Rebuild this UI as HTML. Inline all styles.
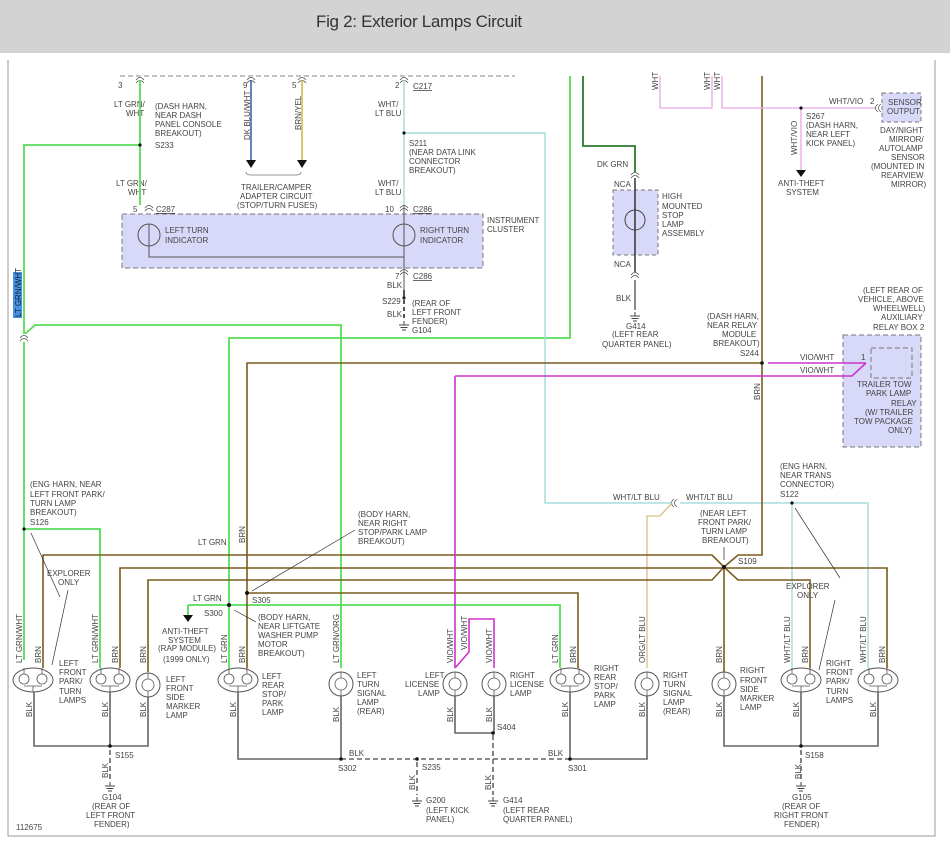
<!DOCTYPE html>
<html><head><meta charset="utf-8"><style>
html,body{margin:0;padding:0;background:#fff;}
body{width:950px;height:848px;overflow:hidden;position:relative;font-family:"Liberation Sans",sans-serif;}
#hdr{position:absolute;left:0;top:0;width:950px;height:53px;background:#d3d3d3;}
#hdr span{position:absolute;left:316px;top:12px;font-size:17px;color:#333;letter-spacing:-0.3px;}
svg{position:absolute;left:0;top:0;}
text{font-family:"Liberation Sans",sans-serif;font-size:8px;fill:#444;}
</style></head><body>
<div id="hdr"><span>Fig 2: Exterior Lamps Circuit</span></div>
<svg width="950" height="848" viewBox="0 0 950 848">
<defs>
<g id="dbl"><ellipse cx="0" cy="0" rx="20" ry="12" fill="#fff" stroke="#555" stroke-width="1"/>
<circle cx="-9" cy="-1" r="5" fill="none" stroke="#555" stroke-width="0.8"/><circle cx="9" cy="-1" r="5" fill="none" stroke="#555" stroke-width="0.8"/>
<path d="M-9,-12 v6 M9,-12 v6 M0,6 v6 M-9,6 h18" stroke="#555" stroke-width="0.8" fill="none"/></g>
<g id="sgl"><circle cx="0" cy="0" r="12" fill="#fff" stroke="#555" stroke-width="1"/>
<circle cx="0" cy="0" r="6" fill="none" stroke="#555" stroke-width="0.8"/><path d="M0,-12 v6 M0,6 v6" stroke="#555" stroke-width="0.8"/></g>
<g id="gnd"><path d="M-5,0 h10 M-3.5,2.5 h7 M-2,5 h4 M0,-4 v4" stroke="#444" stroke-width="1"/></g>
<g id="con"><path d="M-4,2 q4,-5 8,0 M-4,5 q4,-5 8,0" fill="none" stroke="#555" stroke-width="0.8"/></g>
<g id="conh"><path d="M2,-4 q-5,4 0,8 M5,-4 q-5,4 0,8" fill="none" stroke="#555" stroke-width="0.8"/></g>
</defs>
<path d="M8,60 V836 H935 V60" fill="none" stroke="#999" stroke-width="1"/>
<path d="M120,76 H515" stroke="#888" stroke-dasharray="5,3" stroke-width="1"/>
<rect x="122" y="214" width="361" height="54" fill="#d8d8f8" stroke="#777" stroke-dasharray="5,3"/>
<circle cx="149" cy="235" r="11" fill="none" stroke="#555"/><circle cx="404" cy="235" r="11" fill="none" stroke="#555"/>
<path d="M149,224 V257 H404 M404,205 V290" stroke="#555" stroke-width="1" fill="none"/>
<path d="M404,290 V298" stroke="#555" stroke-width="2"/><path d="M404,300 V320" stroke="#555" stroke-width="2" stroke-dasharray="4,3"/>
<circle cx="404" cy="298" r="1.6" fill="#222"/><use href="#gnd" x="404" y="325"/>
<use href="#con" x="140" y="78"/><use href="#con" x="251" y="78"/><use href="#con" x="302" y="78"/><use href="#con" x="404" y="78"/>
<use href="#con" x="149" y="206"/><use href="#con" x="404" y="206"/><use href="#con" x="404" y="270"/>
<text x="118" y="88">3</text><text x="243" y="88">9</text><text x="292" y="88">5</text><text x="395" y="88">2</text><text x="413" y="89" text-decoration="underline">C217</text>
<text x="114" y="107">LT GRN/</text><text x="126" y="116">WHT</text>
<text x="155" y="109">(DASH HARN,</text><text x="155" y="118">NEAR DASH</text><text x="155" y="127">PANEL CONSOLE</text><text x="155" y="136">BREAKOUT)</text><text x="155" y="148">S233</text>
<text x="116" y="186">LT GRN/</text><text x="128" y="195">WHT</text>
<text x="133" y="212">5</text><text x="156" y="212" text-decoration="underline">C287</text>
<text x="385" y="212">10</text><text x="413" y="212" text-decoration="underline">C286</text>
<text x="378" y="107">WHT/</text><text x="375" y="116">LT BLU</text>
<text x="378" y="186">WHT/</text><text x="375" y="195">LT BLU</text>
<text x="409" y="146">S211</text><text x="409" y="155">(NEAR DATA LINK</text><text x="409" y="164">CONNECTOR</text><text x="409" y="173">BREAKOUT)</text>
<text x="165" y="233">LEFT TURN</text><text x="165" y="243">INDICATOR</text>
<text x="420" y="233">RIGHT TURN</text><text x="420" y="243">INDICATOR</text>
<text x="487" y="223">INSTRUMENT</text><text x="487" y="232">CLUSTER</text>
<text x="395" y="279">7</text><text x="413" y="279" text-decoration="underline">C286</text><text x="387" y="288">BLK</text>
<text x="382" y="304">S229</text><text x="387" y="317">BLK</text>
<text x="412" y="306">(REAR OF</text><text x="412" y="315">LEFT FRONT</text><text x="412" y="324">FENDER)</text><text x="412" y="333">G104</text>
<text x="241" y="190">TRAILER/CAMPER</text><text x="240" y="199">ADAPTER CIRCUIT</text><text x="237" y="208">(STOP/TURN FUSES)</text>
<path d="M251,80 V160" stroke="#3355aa" stroke-width="1.5"/><path d="M302,80 V160" stroke="#c8b840" stroke-width="1.5"/>
<path d="M246,160 h10 l-5,8z M297,160 h10 l-5,8z" fill="#111"/>
<path d="M246,172 q0,3 5,3 h45 q5,0 5,-3" fill="none" stroke="#777" stroke-width="0.8"/>
<text transform="translate(250,140) rotate(-90)">DK BLU/WHT</text><text transform="translate(301,130) rotate(-90)">BRN/YEL</text>
<g fill="none" stroke="#55dd55" stroke-width="1.8">
<path d="M140,80 V205"/><path d="M140,145 H24 V660"/>
<path d="M24,335 L35,325 H341 V668"/>
<path d="M24,529 H100 V668"/>
<path d="M570,76 V338 H229 V668"/>
<path d="M188,605 H560 V668"/>
</g>
<rect x="19" y="334" width="10" height="8" fill="#fff"/><use href="#con" x="24" y="336"/>
<path d="M188,605 V616" stroke="#55dd55" stroke-width="1.8"/><path d="M183,615 h10 l-5,7z" fill="#111"/>
<rect x="13" y="272" width="9" height="46" fill="#4a90e2"/>
<text transform="translate(21,317) rotate(-90)" style="fill:#123">LT GRN/WHT</text>
<path d="M583,76 V146 H635 V172" fill="none" stroke="#2a7a2a" stroke-width="1.8"/>
<rect x="613" y="190" width="45" height="65" fill="#d8d8f8" stroke="#777" stroke-dasharray="4,3"/>
<circle cx="635" cy="220" r="10" fill="none" stroke="#444"/><path d="M635,178 V272" stroke="#333" stroke-width="1.5"/>
<use href="#con" x="635" y="173"/><use href="#con" x="635" y="273"/>
<path d="M635,280 V310" stroke="#666" stroke-width="1.5"/><use href="#gnd" x="635" y="316"/>
<text x="597" y="167">DK GRN</text><text x="614" y="187">NCA</text><text x="614" y="267">NCA</text><text x="616" y="301">BLK</text>
<text x="662" y="199">HIGH</text><text x="662" y="209">MOUNTED</text><text x="662" y="218">STOP</text><text x="662" y="227">LAMP</text><text x="662" y="236">ASSEMBLY</text>
<text x="626" y="329">G414</text><text x="612" y="337">(LEFT REAR</text><text x="602" y="347">QUARTER PANEL)</text>
<g fill="none" stroke="#a8dede" stroke-width="1.5">
<path d="M404,80 V205"/><path d="M404,133 H545 V503 H671"/>
<path d="M680,503 H868 V668"/><path d="M792,503 V668"/>
</g>
<use href="#conh" x="672" y="503"/>
<path d="M672,503 L660,516 H647 V668" fill="none" stroke="#d8c080" stroke-width="1.3"/>
<text x="613" y="500">WHT/LT BLU</text><text x="686" y="500">WHT/LT BLU</text>
<text x="780" y="469">(ENG HARN,</text><text x="780" y="478">NEAR TRANS</text><text x="780" y="487">CONNECTOR)</text><text x="780" y="497">S122</text>
<g fill="none" stroke="#7a5c1e" stroke-width="1.6">
<path d="M762,76 V555 H738 L724,567 L712,555 H43 V668"/>
<path d="M120,668 V568 H887 V668"/>
<path d="M148,672 V580 H712 L724,567 L738,580 H810 V668"/>
<path d="M724,567 V672"/>
<path d="M247,668 V363 H762"/>
<path d="M247,593 H578 V668"/>
</g>
<circle cx="724" cy="567" r="2" fill="#111"/><circle cx="762" cy="363" r="1.8" fill="#111"/>
<g fill="none" stroke="#e8a8e8" stroke-width="1.3">
<path d="M660,76 V108 H712 V76"/><path d="M722,76 V108 H876"/><path d="M801,108 V170"/>
</g>
<use href="#conh" x="876" y="108"/>
<path d="M796,170 h10 l-5,7z" fill="#111"/><circle cx="801" cy="108" r="1.6" fill="#111"/>
<text transform="translate(658,90) rotate(-90)">WHT</text><text transform="translate(710,90) rotate(-90)">WHT</text><text transform="translate(720,90) rotate(-90)">WHT</text>
<text x="829" y="104">WHT/VIO</text><text x="870" y="104">2</text>
<text x="806" y="119">S267</text><text x="806" y="128">(DASH HARN,</text><text x="806" y="137">NEAR LEFT</text><text x="806" y="146">KICK PANEL)</text>
<text transform="translate(797,155) rotate(-90)">WHT/VIO</text>
<text x="778" y="186">ANTI-THEFT</text><text x="786" y="195">SYSTEM</text>
<rect x="882" y="93" width="39" height="29" fill="#d8d8f8" stroke="#777" stroke-dasharray="4,3"/>
<text x="888" y="105">SENSOR</text><text x="887" y="114">OUTPUT</text>
<text x="880" y="133">DAY/NIGHT</text><text x="889" y="142">MIRROR/</text><text x="879" y="151">AUTOLAMP</text><text x="891" y="160">SENSOR</text><text x="871" y="169">(MOUNTED IN</text><text x="881" y="178">REARVIEW</text><text x="891" y="187">MIRROR)</text>
<rect x="843" y="335" width="78" height="112" fill="#d8d8f8" stroke="#777" stroke-dasharray="5,3"/>
<rect x="871" y="348" width="41" height="30" fill="#d8d8f8" stroke="#777" stroke-dasharray="5,3"/>
<text x="863" y="293">(LEFT REAR OF</text><text x="858" y="302">VEHICLE, ABOVE</text><text x="873" y="311">WHEELWELL)</text><text x="881" y="320">AUXILIARY</text><text x="873" y="330">RELAY BOX 2</text>
<text x="857" y="387">TRAILER TOW</text><text x="866" y="396">PARK LAMP</text><text x="891" y="406">RELAY</text><text x="865" y="415">(W/ TRAILER</text><text x="854" y="424">TOW PACKAGE</text><text x="888" y="433">ONLY)</text>
<text x="861" y="360">1</text>
<g fill="none" stroke="#cc33cc" stroke-width="1.6">
<path d="M768,363 H866"/><path d="M455,376 H852 L866,363"/>
<path d="M455,376 V668"/><path d="M455,668 L469,652 V619 H494 V668"/>
</g>
<text x="800" y="360">VIO/WHT</text><text x="800" y="373">VIO/WHT</text>
<text x="707" y="319">(DASH HARN,</text><text x="707" y="328">NEAR RELAY</text><text x="722" y="337">MODULE</text><text x="713" y="346">BREAKOUT)</text><text x="740" y="356">S244</text>
<text transform="translate(760,400) rotate(-90)">BRN</text>
<text x="700" y="516">(NEAR LEFT</text><text x="698" y="525">FRONT PARK/</text><text x="701" y="534">TURN LAMP</text><text x="702" y="543">BREAKOUT)</text><text x="738" y="564">S109</text>
<path d="M724,547 V560" stroke="#222" stroke-width="0.7"/>
<text x="30" y="487">(ENG HARN, NEAR</text><text x="30" y="497">LEFT FRONT PARK/</text><text x="30" y="506">TURN LAMP</text><text x="30" y="515">BREAKOUT)</text><text x="30" y="525">S126</text>
<circle cx="24" cy="529" r="1.6" fill="#111"/><circle cx="140" cy="145" r="1.6" fill="#111"/><circle cx="404" cy="133" r="1.6" fill="#111"/>
<circle cx="229" cy="605" r="2" fill="#111"/><circle cx="247" cy="593" r="2" fill="#111"/><circle cx="792" cy="503" r="1.6" fill="#111"/>
<text x="47" y="576">EXPLORER</text><text x="58" y="585">ONLY</text>
<path d="M68,590 L52,665 M60,597 L31,533 M819,670 L835,600 M840,578 L795,508" stroke="#333" stroke-width="0.7"/>
<text x="198" y="545">LT GRN</text><text transform="translate(245,543) rotate(-90)">BRN</text>
<text x="358" y="517">(BODY HARN,</text><text x="358" y="526">NEAR RIGHT</text><text x="358" y="535">STOP/PARK LAMP</text><text x="358" y="544">BREAKOUT)</text>
<path d="M355,530 L252,591" stroke="#333" stroke-width="0.7"/>
<text x="252" y="603">S305</text><text x="193" y="601">LT GRN</text><text x="204" y="616">S300</text>
<text x="258" y="620">(BODY HARN,</text><text x="258" y="629">NEAR LIFTGATE</text><text x="258" y="638">WASHER PUMP</text><text x="258" y="647">MOTOR</text><text x="258" y="656">BREAKOUT)</text>
<path d="M256,622 L234,610" stroke="#333" stroke-width="0.7"/>
<text x="162" y="634">ANTI-THEFT</text><text x="168" y="643">SYSTEM</text><text x="158" y="651">(RAP MODULE)</text><text x="163" y="662">(1999 ONLY)</text>
<text x="786" y="589">EXPLORER</text><text x="797" y="598">ONLY</text>
<use href="#dbl" x="33" y="680"/><use href="#dbl" x="110" y="680"/><use href="#sgl" x="148" y="685"/>
<use href="#dbl" x="238" y="680"/><use href="#sgl" x="341" y="684"/><use href="#sgl" x="455" y="684"/><use href="#sgl" x="494" y="684"/>
<use href="#dbl" x="570" y="680"/><use href="#sgl" x="647" y="684"/><use href="#sgl" x="724" y="684"/><use href="#dbl" x="801" y="680"/><use href="#dbl" x="878" y="680"/>
<g>
<text transform="translate(22,663) rotate(-90)">LT GRN/WHT</text><text transform="translate(41,663) rotate(-90)">BRN</text>
<text transform="translate(98,663) rotate(-90)">LT GRN/WHT</text><text transform="translate(118,663) rotate(-90)">BRN</text>
<text transform="translate(146,663) rotate(-90)">BRN</text>
<text transform="translate(227,663) rotate(-90)">LT GRN</text><text transform="translate(245,663) rotate(-90)">BRN</text>
<text transform="translate(339,663) rotate(-90)">LT GRN/ORG</text>
<text transform="translate(453,663) rotate(-90)">VIO/WHT</text><text transform="translate(467,650) rotate(-90)">VIO/WHT</text><text transform="translate(492,663) rotate(-90)">VIO/WHT</text>
<text transform="translate(558,663) rotate(-90)">LT GRN</text><text transform="translate(576,663) rotate(-90)">BRN</text>
<text transform="translate(645,663) rotate(-90)">ORG/LT BLU</text><text transform="translate(722,663) rotate(-90)">BRN</text>
<text transform="translate(790,663) rotate(-90)">WHT/LT BLU</text><text transform="translate(808,663) rotate(-90)">BRN</text>
<text transform="translate(866,663) rotate(-90)">WHT/LT BLU</text><text transform="translate(885,663) rotate(-90)">BRN</text>
<text transform="translate(32,717) rotate(-90)">BLK</text><text transform="translate(108,717) rotate(-90)">BLK</text><text transform="translate(146,717) rotate(-90)">BLK</text>
<text transform="translate(236,717) rotate(-90)">BLK</text><text transform="translate(339,722) rotate(-90)">BLK</text><text transform="translate(453,722) rotate(-90)">BLK</text>
<text transform="translate(492,722) rotate(-90)">BLK</text><text transform="translate(568,717) rotate(-90)">BLK</text><text transform="translate(645,717) rotate(-90)">BLK</text>
<text transform="translate(722,717) rotate(-90)">BLK</text><text transform="translate(799,717) rotate(-90)">BLK</text><text transform="translate(876,717) rotate(-90)">BLK</text>
<text transform="translate(108,778) rotate(-90)">BLK</text><text transform="translate(415,790) rotate(-90)">BLK</text><text transform="translate(491,790) rotate(-90)">BLK</text><text transform="translate(801,779) rotate(-90)">BLK</text>
</g>
<text x="59" y="666">LEFT</text><text x="59" y="675">FRONT</text><text x="59" y="684">PARK/</text><text x="59" y="694">TURN</text><text x="59" y="703">LAMPS</text>
<text x="166" y="682">LEFT</text><text x="166" y="691">FRONT</text><text x="166" y="700">SIDE</text><text x="166" y="709">MARKER</text><text x="166" y="718">LAMP</text>
<text x="262" y="679">LEFT</text><text x="262" y="688">REAR</text><text x="262" y="697">STOP/</text><text x="262" y="706">PARK</text><text x="262" y="715">LAMP</text>
<text x="357" y="678">LEFT</text><text x="357" y="687">TURN</text><text x="357" y="696">SIGNAL</text><text x="357" y="705">LAMP</text><text x="357" y="714">(REAR)</text>
<text x="425" y="678">LEFT</text><text x="405" y="687">LICENSE</text><text x="418" y="696">LAMP</text>
<text x="510" y="678">RIGHT</text><text x="510" y="687">LICENSE</text><text x="510" y="696">LAMP</text>
<text x="594" y="671">RIGHT</text><text x="594" y="680">REAR</text><text x="594" y="689">STOP/</text><text x="594" y="698">PARK</text><text x="594" y="707">LAMP</text>
<text x="663" y="678">RIGHT</text><text x="663" y="687">TURN</text><text x="663" y="696">SIGNAL</text><text x="663" y="705">LAMP</text><text x="663" y="714">(REAR)</text>
<text x="740" y="673">RIGHT</text><text x="740" y="683">FRONT</text><text x="740" y="692">SIDE</text><text x="740" y="701">MARKER</text><text x="740" y="710">LAMP</text>
<text x="826" y="666">RIGHT</text><text x="826" y="675">FRONT</text><text x="826" y="684">PARK/</text><text x="826" y="694">TURN</text><text x="826" y="703">LAMPS</text>
<g fill="none" stroke="#666" stroke-width="1.6">
<path d="M34,692 V746 H148 V697"/><path d="M110,692 V746"/>
<path d="M238,692 V759 H341 V696"/><path d="M570,692 V759 H647 V696"/>
<path d="M455,696 V733 H494 V696"/>
<path d="M724,696 V746 H878 V692"/><path d="M801,692 V746"/>
</g>
<g fill="none" stroke="#666" stroke-width="1.6" stroke-dasharray="5,3">
<path d="M341,759 H570"/><path d="M110,750 V780"/><path d="M417,762 V795"/><path d="M493,735 V795"/><path d="M801,750 V780"/>
</g>
<circle cx="110" cy="746" r="1.8" fill="#111"/><circle cx="341" cy="759" r="1.8" fill="#111"/><circle cx="570" cy="759" r="1.8" fill="#111"/>
<circle cx="417" cy="759" r="1.8" fill="#111"/><circle cx="493" cy="733" r="1.8" fill="#111"/><circle cx="801" cy="746" r="1.8" fill="#111"/>
<use href="#gnd" x="110" y="786"/><use href="#gnd" x="417" y="801"/><use href="#gnd" x="493" y="801"/><use href="#gnd" x="801" y="786"/>
<text x="115" y="758">S155</text><text x="349" y="756">BLK</text><text x="338" y="771">S302</text><text x="422" y="770">S235</text>
<text x="497" y="730">S404</text><text x="548" y="756">BLK</text><text x="568" y="771">S301</text><text x="805" y="758">S158</text>
<text x="102" y="800">G104</text><text x="92" y="809">(REAR OF</text><text x="86" y="818">LEFT FRONT</text><text x="94" y="827">FENDER)</text>
<text x="426" y="803">G200</text><text x="426" y="813">(LEFT KICK</text><text x="426" y="822">PANEL)</text>
<text x="503" y="803">G414</text><text x="503" y="813">(LEFT REAR</text><text x="503" y="822">QUARTER PANEL)</text>
<text x="792" y="800">G105</text><text x="782" y="809">(REAR OF</text><text x="774" y="818">RIGHT FRONT</text><text x="784" y="827">FENDER)</text>
<text x="16" y="830">112675</text>
</svg>
</body></html>
